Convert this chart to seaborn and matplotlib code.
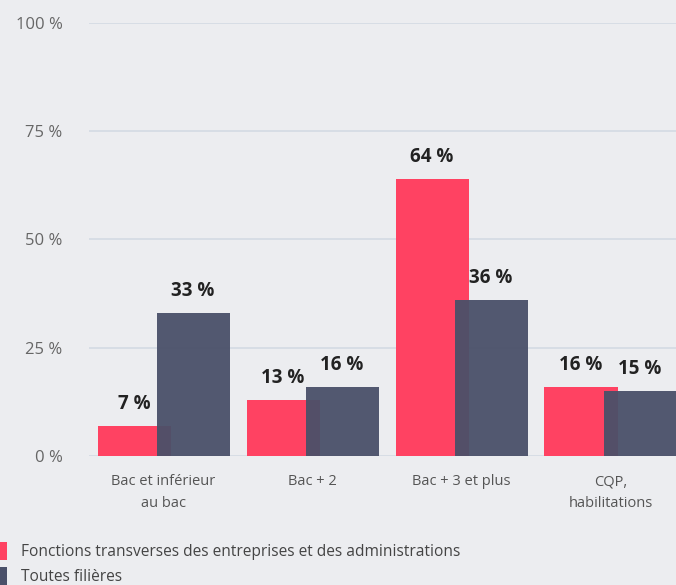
import numpy as np
import pandas as pd
import matplotlib.pyplot as plt
import seaborn as sns
from matplotlib.patches import Patch

# data
categories = ["Bac et inférieur\nau bac", "Bac + 2", "Bac + 3 et plus", "CQP,\nhabilitations"]
fonctions = [7, 13, 64, 16]
toutes = [33, 16, 36, 15]
series_names = ["Fonctions transverses des entreprises et des administrations", "Toutes filières"]
yticks = [0, 25, 50, 75, 100]

bg = "#ecedf0"
pink = "#ff4262"
dark = "#4a5069"

sns.set_theme(style="white")
plt.rcParams['font.family'] = ['Open Sans', 'DejaVu Sans']

fig = plt.figure(figsize=(6.76, 5.85), dpi=100, facecolor=bg)
ax = fig.add_axes([0.1317, 0.2205, 0.8683, 0.7405])
ax.set_facecolor(bg)

bar_w = 0.49
shift = 0.198

sns.barplot(x=categories, y=fonctions, color=pink, width=bar_w, saturation=1, ax=ax)
n1 = len(ax.patches)
sns.barplot(x=categories, y=toutes, color=dark, width=bar_w, saturation=1, alpha=0.95, ax=ax)

for i, p in enumerate(ax.patches):
    off = -shift if i < n1 else shift
    p.set_x(p.get_x() + off)
    p.set_edgecolor("none")
    p.set_zorder(3 if i < n1 else 4)

# value labels
vals = fonctions + toutes
for p, v in zip(ax.patches, vals):
    ax.text(p.get_x() + p.get_width() / 2, p.get_height() + 2.8, f"{v} %",
            ha="center", va="bottom", fontsize=13.5, fontweight="bold", color="#222222", zorder=5)

ax.set_ylim(0, 100)
ax.set_xlim(-0.5, -0.5 + 587 / 149)
ax.set_yticks(yticks)
ax.set_yticklabels([f"{t} %" for t in yticks])
ax.yaxis.grid(True, color="#d3dae3", linewidth=1.2, zorder=0)
ax.set_axisbelow(True)
for s in ax.spines.values():
    s.set_visible(False)
ax.tick_params(axis="y", length=0, pad=19, labelsize=12, labelcolor="#666666")
ax.tick_params(axis="x", length=0, pad=13, labelsize=10.5, labelcolor="#555555")
for t in ax.get_xticklabels():
    t.set_linespacing(1.6)
ax.set_xlabel("")
ax.set_ylabel("")

handles = [Patch(facecolor=pink, edgecolor="none"), Patch(facecolor=dark, edgecolor="none")]
fig.legend(handles, series_names, loc="upper left", bbox_to_anchor=(-0.012, 0.074),
           frameon=False, handlelength=1.0, handleheight=1.4, handletextpad=0.9,
           labelspacing=0.45, fontsize=11.2, labelcolor="#444444", borderaxespad=0, borderpad=0)

fig.savefig("out.png", dpi=100, facecolor=bg)
